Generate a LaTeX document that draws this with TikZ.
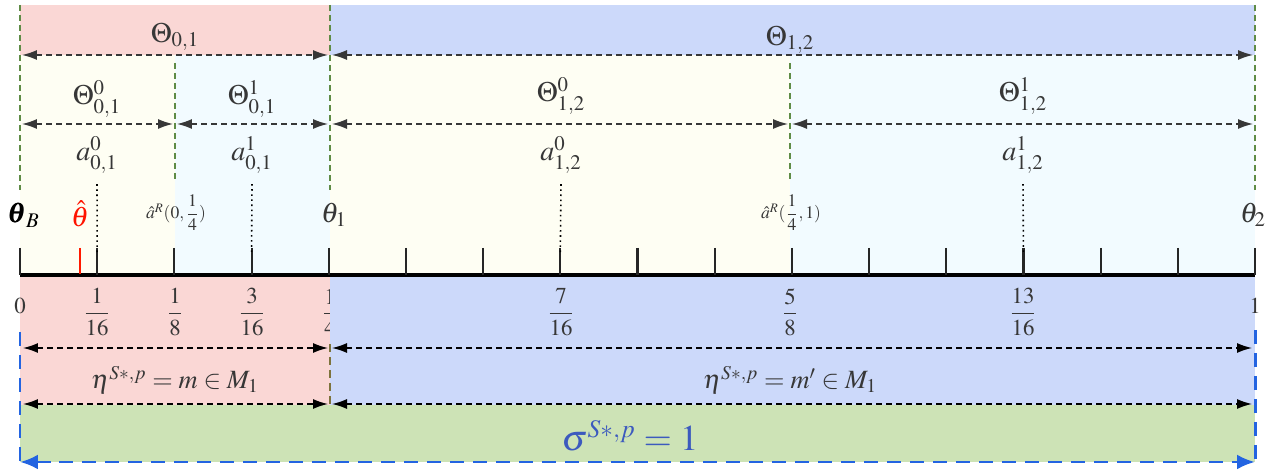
\documentclass[tikz,border=0pt]{standalone}
\usepackage{amsmath,amssymb,amsfonts}
\usepackage{mathptmx}
\usepackage{xcolor}
\usepackage{tikz}
\usetikzlibrary{arrows.meta, positioning, calc}
\definecolor{pinkbg}{RGB}{250, 215, 213}
\definecolor{bluebg}{RGB}{204, 217, 250}
\definecolor{ivorybg}{RGB}{254, 254, 243}
\definecolor{cyanbg}{RGB}{242, 251, 255}
\definecolor{greenbg}{RGB}{205, 227, 182}
\definecolor{guidegreen}{RGB}{95, 140, 70}
\definecolor{olivemark}{RGB}{125, 115, 60}
\definecolor{borderblue}{RGB}{35, 100, 225}
\definecolor{sigmablue}{RGB}{60, 90, 190}
\definecolor{labgray}{RGB}{55, 55, 55}

\begin{document}
\begin{tikzpicture}[
    x=0.02cm, y=-0.02cm,
    lab/.style={text=labgray, inner sep=1pt, font=\fontsize{16}{19}\selectfont},
    small lab/.style={text=labgray, inner sep=1pt, font=\normalsize},
    frac lab/.style={text=labgray, inner sep=1pt, font=\fontsize{13}{16}\selectfont},
    span/.style={{Latex[length=3mm,width=2mm]}-{Latex[length=3mm,width=2mm]}, line width=0.8pt, dash pattern=on 1.2mm off 0.8mm, color=labgray},
    black span/.style={span, color=black},
    guide/.style={line width=0.6pt, dash pattern=on 1.2mm off 0.8mm, color=guidegreen},
    pointer/.style={dotted, line width=0.9pt, color=black},
    tick/.style={line width=1.2pt, color=black!85},
    border/.style={line width=1.7pt, dash pattern=on 2.8mm off 1.8mm, color=borderblue}
]
    \useasboundingbox (0,0) rectangle (1281,475);

    % shaded bands
    \fill[pinkbg] (20,5) rectangle (330,55);
    \fill[bluebg] (330,5) rectangle (1255,55);
    \fill[ivorybg] (20,55) rectangle (175,275);
    \fill[cyanbg] (175,55) rectangle (330,275);
    \fill[ivorybg] (330,55) rectangle (790,275);
    \fill[cyanbg] (790,55) rectangle (1255,275);
    \fill[pinkbg] (20,275) rectangle (330,405);
    \node[frac lab] (f4) at (330,312) {$\dfrac{1}{4}$};
    \fill[bluebg] (330,275) rectangle (1255,405);
    \fill[greenbg] (20,405) rectangle (1255,462);

    % boundary points
    \foreach \n/\x in {0/20, a/175, 1/330, b/790, 2/1255} {
        \coordinate (top\n) at (\x,5);
        \coordinate (up\n) at (\x,55);
        \coordinate (mid\n) at (\x,124);
        \coordinate (low\n) at (\x,190);
        \coordinate (eta\n) at (\x,348);
        \coordinate (sep\n) at (\x,404);
        \coordinate (bot\n) at (\x,462);
    }

    % guides
    \draw[guide] (top0) -- (low0);
    \draw[guide] (top1) -- (low1);
    \draw[guide] (top2) -- (low2);
    \draw[guide] ($(upa)+(0,8)$) -- ($(lowa)+(0,-8)$);
    \draw[guide] ($(upb)+(0,8)$) -- ($(lowb)+(0,-8)$);

    % intervals
    \draw[span] ($(up0)+(2,0)$) -- ($(up1)+(-2,0)$);
    \draw[span] ($(up1)+(2,0)$) -- ($(up2)+(-2,0)$);
    \draw[span] ($(mid0)+(2,0)$) -- ($(mida)+(-2,0)$);
    \draw[span] ($(mida)+(2,0)$) -- ($(mid1)+(-2,0)$);
    \draw[span] ($(mid1)+(2,0)$) -- ($(midb)+(-2,0)$);
    \draw[span] ($(midb)+(2,0)$) -- ($(mid2)+(-2,0)$);

    \node[lab] (T01) at (175,37) {$\Theta_{0,1}$};
    \node[lab] (T12) at (790,40) {$\Theta_{1,2}$};
    \node[lab] (T010) at (97,99) {$\Theta^0_{0,1}$};
    \node[lab] (T011) at (252,99) {$\Theta^1_{0,1}$};
    \node[lab] (T120) at (561,96) {$\Theta^0_{1,2}$};
    \node[lab] (T121) at (1023,96) {$\Theta^1_{1,2}$};

    \node[lab] (a010) at (97,155) {$a^0_{0,1}$};
    \node[lab] (a011) at (252,155) {$a^1_{0,1}$};
    \node[lab] (a120) at (561,155) {$a^0_{1,2}$};
    \node[lab] (a121) at (1023,155) {$a^1_{1,2}$};

    % axis
    \foreach \i in {0,...,16}
        \coordinate (k\i) at ({20+77.1875*\i},248);
    \draw[line width=1.8pt] (20,275) coordinate (ax0) -- (1255,275) coordinate (ax1);
    \foreach \i in {0,...,16}
        \draw[tick] (k\i) -- ++(0,27);
    \draw[line width=1.2pt, red!80!orange] (80,248) coordinate (hat) -- ++(0,26);

    \draw[pointer] ([yshift=-5pt]a010.south) -- ([yshift=-3pt]k1);
    \draw[pointer] ([yshift=-5pt]a011.south) -- ([yshift=-3pt]k3);
    \draw[pointer] ([yshift=-5pt]a120.south) -- ([yshift=-3pt]k7);
    \draw[pointer] ([yshift=-5pt]a121.south) -- ([yshift=-3pt]k13);

    \node[lab, text=black] (thB) at (24,215) {$\pmb{\theta}_B$};
    \node[lab, text=red!85!orange] (thhat) at (80,214) {$\hat{\theta}$};
    \node[small lab] (aR0) at (176,213) {$\hat{a}^R(0,\dfrac{1}{4})$};
    \node[lab] (th1) at (334,215) {$\theta_1$};
    \node[small lab] (aR1) at (791,213) {$\hat{a}^R(\dfrac{1}{4},1)$};
    \node[lab] (th2) at (1253,215) {$\theta_2$};

    % tick values
    \node[frac lab] (f0) at (20,306) {$0$};
    \node[frac lab] (f116) at (97,312) {$\dfrac{1}{16}$};
    \node[frac lab] (f18) at (175,312) {$\dfrac{1}{8}$};
    \node[frac lab] (f316) at (252,312) {$\dfrac{3}{16}$};
    \node[frac lab] (f716) at (561,312) {$\dfrac{7}{16}$};
    \node[frac lab] (f58) at (790,312) {$\dfrac{5}{8}$};
    \node[frac lab] (f1316) at (1023,312) {$\dfrac{13}{16}$};
    \node[frac lab] (f1) at (1255,306) {$1$};

    % lower bands
    \draw[black span] ($(eta0)+(3,0)$) -- ($(eta1)+(-2,0)$);
    \draw[black span] ($(eta1)+(2,0)$) -- ($(eta2)+(-3,0)$);
    \draw[black span] ($(sep0)+(3,0)$) -- ($(sep1)+(-2,0)$);
    \draw[black span] ($(sep1)+(2,0)$) -- ($(sep2)+(-3,0)$);
    \draw[line width=1.2pt, dash pattern=on 1.6mm off 1mm, olivemark] ($(eta1)+(0,-4)$) -- (sep1);

    \node[lab, font=\fontsize{15}{18}\selectfont] (eta) at (175,380) {$\eta^{S*,p} = m \in M_1$};
    \node[lab, font=\fontsize{15}{18}\selectfont] (etap) at (790,380) {$\eta^{S*,p} = m' \in M_1$};

    \draw[border] (20,332) coordinate (bl) -- (bot0);
    \draw[border] (1255,330) coordinate (br) -- (bot2);
    \draw[border, {Latex[length=3.6mm,width=3mm]}-{Latex[length=3.6mm,width=3mm]}] (bot0) -- (bot2);
    \node[text=sigmablue, font=\huge] (sigma) at (630,436) {$\sigma^{S*,p} = 1$};

\end{tikzpicture}
\end{document}
